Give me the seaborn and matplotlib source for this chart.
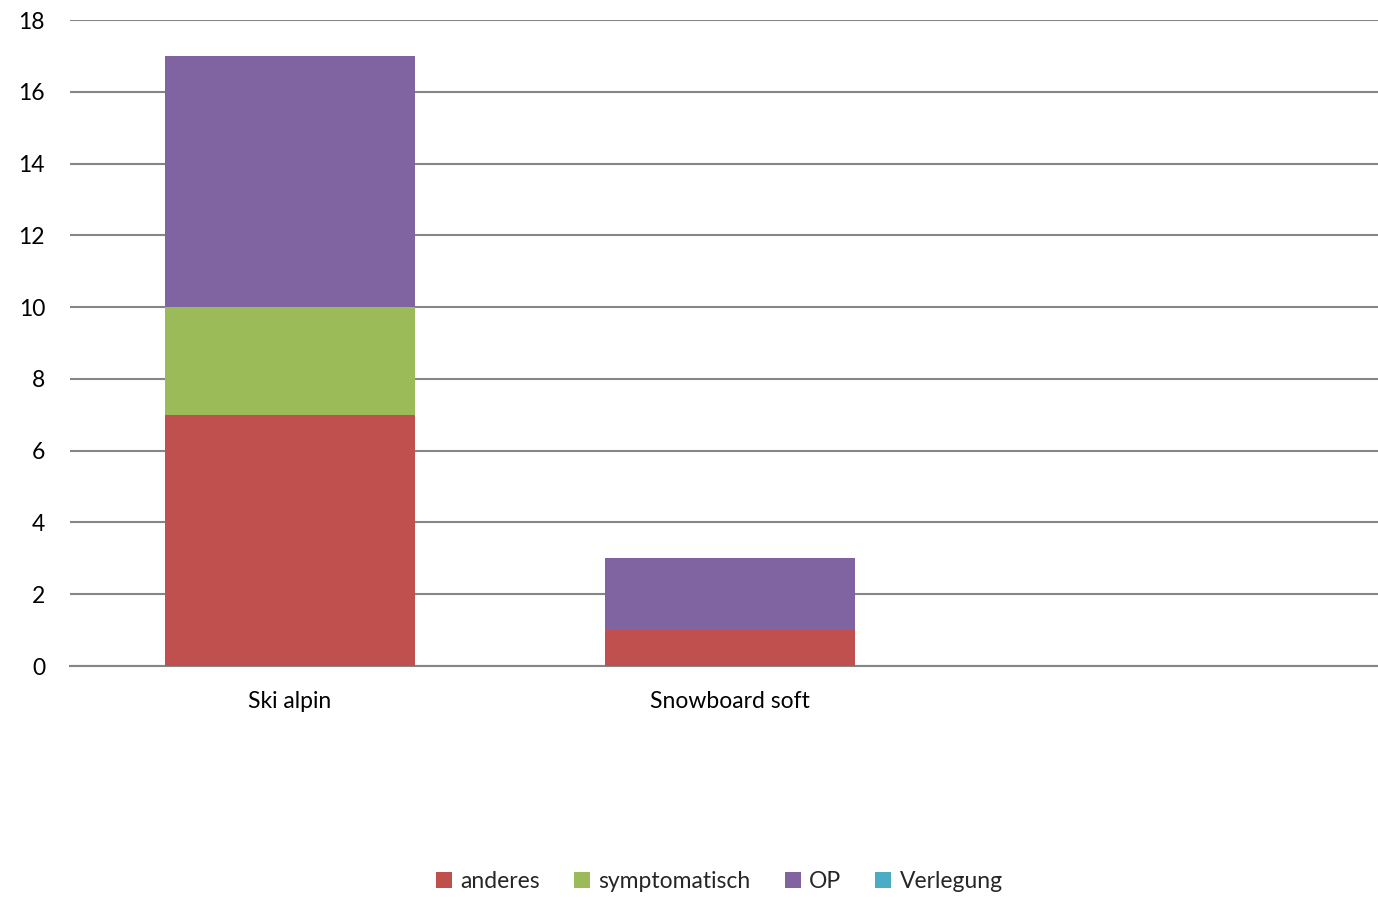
import numpy as np
import pandas as pd
import matplotlib
matplotlib.use("Agg")
import matplotlib.pyplot as plt
from matplotlib.patches import Patch
import seaborn as sns

# data
categories = ["Ski alpin", "Snowboard soft", ""]
anderes = [7, 1, 0]
symptomatisch = [3, 0, 0]
op = [7, 2, 0]
verlegung = [0, 0, 0]

series = ["anderes", "symptomatisch", "OP", "Verlegung"]
colors = ["#C0504D", "#9BBB59", "#8064A2", "#4BACC6"]

sns.set_style("white")
plt.rcParams["font.family"] = ["Lato", "DejaVu Sans"]

df = pd.DataFrame({"cat": categories, "anderes": anderes,
                   "symptomatisch": symptomatisch, "OP": op, "Verlegung": verlegung})

fig = plt.figure(figsize=(13.78, 8.97), dpi=100)
ax = fig.add_axes([0.0508, 0.2575, 0.9492, 0.7202])

# stacked bars: draw cumulative totals from top segment down
cum = df[series].cumsum(axis=1)
for s, c in reversed(list(zip(series, colors))):
    sns.barplot(x=df["cat"], y=cum[s], color=c, width=0.57, ax=ax,
                saturation=1, order=categories, zorder=3, linewidth=0)

ax.set_ylim(0, 18)
ax.set_yticks(range(0, 19, 2))
ax.set_xlim(-0.5, 2.473)
ax.yaxis.grid(True, color="#868686", linewidth=1.5, zorder=0)
ax.set_axisbelow(True)
for side in ["top", "right", "left"]:
    ax.spines[side].set_visible(False)
ax.spines["bottom"].set_color("#868686")
ax.spines["bottom"].set_linewidth(1.5)
ax.tick_params(axis="both", length=0, labelsize=16.5, colors="black")
ax.tick_params(axis="x", pad=18)
ax.tick_params(axis="y", pad=18)
ax.set_xlabel("")
ax.set_ylabel("")

handles = [Patch(facecolor=c, edgecolor="none") for c in colors]
fig.legend(handles, series, loc="center", bbox_to_anchor=(0.522, 0.017),
           ncol=4, frameon=False, fontsize=16.5, handlelength=0.7,
           handleheight=0.7, handletextpad=0.35, columnspacing=1.5)

fig.savefig("out.png", dpi=100)
